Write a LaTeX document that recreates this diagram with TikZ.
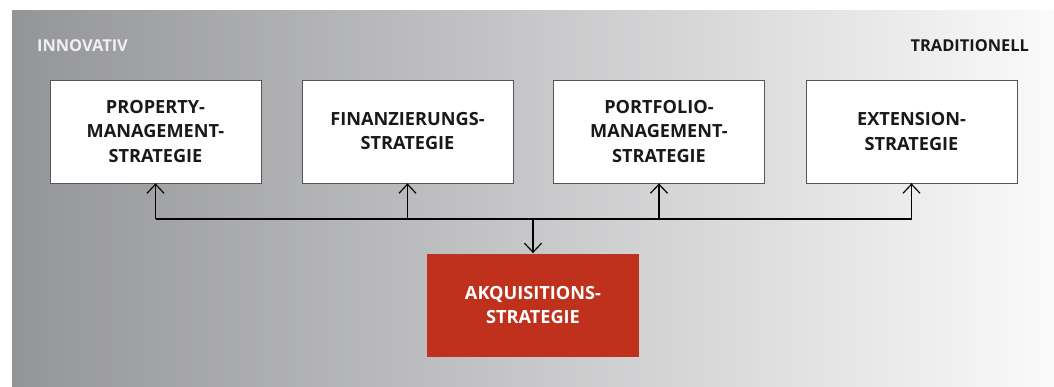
\documentclass[tikz,border=0pt]{standalone}
\usepackage{fontspec}
\setmainfont{Open Sans}
\usetikzlibrary{arrows.meta}
\definecolor{akqred}{RGB}{191,49,28}
\definecolor{bgleft}{RGB}{148,149,152}
\definecolor{bgright}{RGB}{250,250,250}
\definecolor{boxline}{RGB}{85,85,85}
\begin{document}
\begin{tikzpicture}[x=0.03cm,y=-0.03cm,
  stratbox/.style={draw=boxline,line width=0.7pt,fill=white,minimum width=6.33cm,minimum height=3.09cm,
    align=center,font=\fontsize{15.5}{20.5}\selectfont\bfseries,text=black!90},
  akqbox/.style={stratbox,draw=none,fill=akqred,text=white},
  side/.style={font=\fontsize{14}{17}\selectfont\bfseries},
  link/.style={line width=1pt,black}]
\useasboundingbox (0,0) rectangle (1054,386);
\shade[left color=bgleft,right color=bgright] (12,10) rectangle (1054,386);
%
\node[side,text=white!94!black,anchor=west] (innov) at (33,46) {INNOVATIV};
\node[side,text=black!90,anchor=east] (trad) at (1033,46) {TRADITIONELL};
%
\node[stratbox] (property) at (155.5,131.5) {PROPERTY-\\MANAGEMENT-\\STRATEGIE};
\node[stratbox] (finanz) at (407.5,131.5) {FINANZIERUNGS-\\STRATEGIE};
\node[stratbox] (portfolio) at (659,131.5) {PORTFOLIO-\\MANAGEMENT-\\STRATEGIE};
\node[stratbox] (extension) at (911.5,131.5) {EXTENSION-\\STRATEGIE};
%
\node[akqbox] (akq) at (533,305) {AKQUISITIONS-\\STRATEGIE};
%
\coordinate (hub) at (533,218.5);
\draw[link] (property.south) ++(0,35.5) -| (extension.south);
\foreach \n in {property,finanz,portfolio,extension}
  \draw[link,-{Straight Barb[length=2.7mm,width=5.1mm]}] (\n.south) ++(0,35.5) -- (\n.south);
\draw[link,-{Straight Barb[length=2.7mm,width=5.1mm]}] (hub) -- (akq.north);
\end{tikzpicture}
\end{document}
